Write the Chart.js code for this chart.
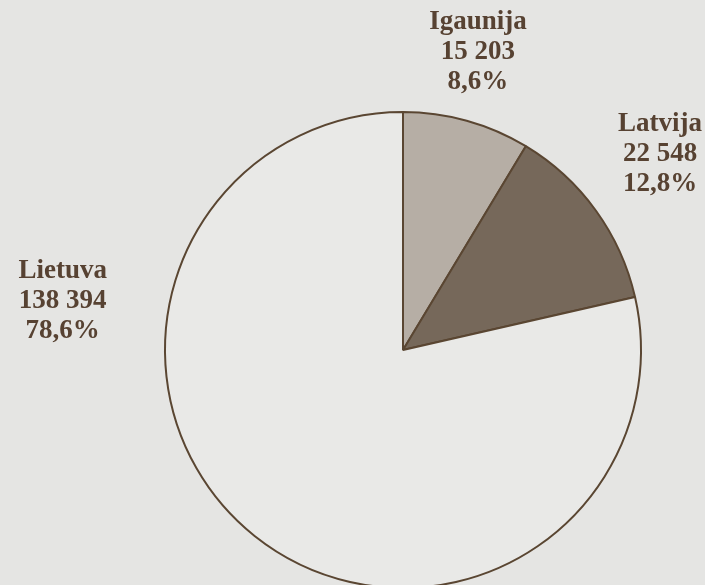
<!DOCTYPE html>
<html><head><meta charset="utf-8">
<script src="https://cdn.jsdelivr.net/npm/chart.js@4/dist/chart.umd.min.js"></script>
<style>
html,body{margin:0;padding:0;background:#e5e5e3;overflow:hidden;}
#wrap{width:705px;height:585px;overflow:hidden;position:relative;}
canvas{display:block;}
</style></head>
<body>
<div id="wrap"><canvas id="c" width="705" height="600"></canvas></div>
<script>
const categories = ["Igaunija", "Latvija", "Lietuva"];
const values = [15203, 22548, 138394];
const valueLabels = ["15 203", "22 548", "138 394"];
const percentLabels = ["8,6%", "12,8%", "78,6%"];

const sliceColors = ["#b6aea5", "#76685a", "#e9e9e7"];
// label anchor offsets relative to pie centre, in units of radius
const labelOffsets = [[0.315, -1.25], [1.08, -0.825], [-1.43, -0.205]];

const labelPlugin = {
  id: 'labels',
  afterDraw(chart) {
    const ctx = chart.ctx;
    const meta = chart.getDatasetMeta(0);
    ctx.save();
    ctx.fillStyle = '#574232';
    ctx.font = 'bold 27px "Liberation Serif", "DejaVu Serif", serif';
    ctx.textAlign = 'center';
    ctx.textBaseline = 'middle';
    meta.data.forEach((arc, i) => {
      const r = arc.outerRadius;
      const cx = arc.x + labelOffsets[i][0] * r;
      const cy = arc.y + labelOffsets[i][1] * r;
      const lines = [categories[i], valueLabels[i], percentLabels[i]];
      lines.forEach((t, k) => ctx.fillText(t, cx, cy + (k - 1) * 30));
    });
    ctx.restore();
  }
};

new Chart(document.getElementById('c'), {
  type: 'pie',
  data: {
    labels: categories,
    datasets: [{
      data: values,
      backgroundColor: sliceColors,
      borderColor: '#5a4632',
      borderWidth: 2
    }]
  },
  options: {
    responsive: false,
    animation: false,
    layout: { padding: { left: 164, right: 63, top: 111, bottom: 11 } },
    plugins: { legend: { display: false }, tooltip: { enabled: false } }
  },
  plugins: [labelPlugin]
});
</script>
</body></html>
